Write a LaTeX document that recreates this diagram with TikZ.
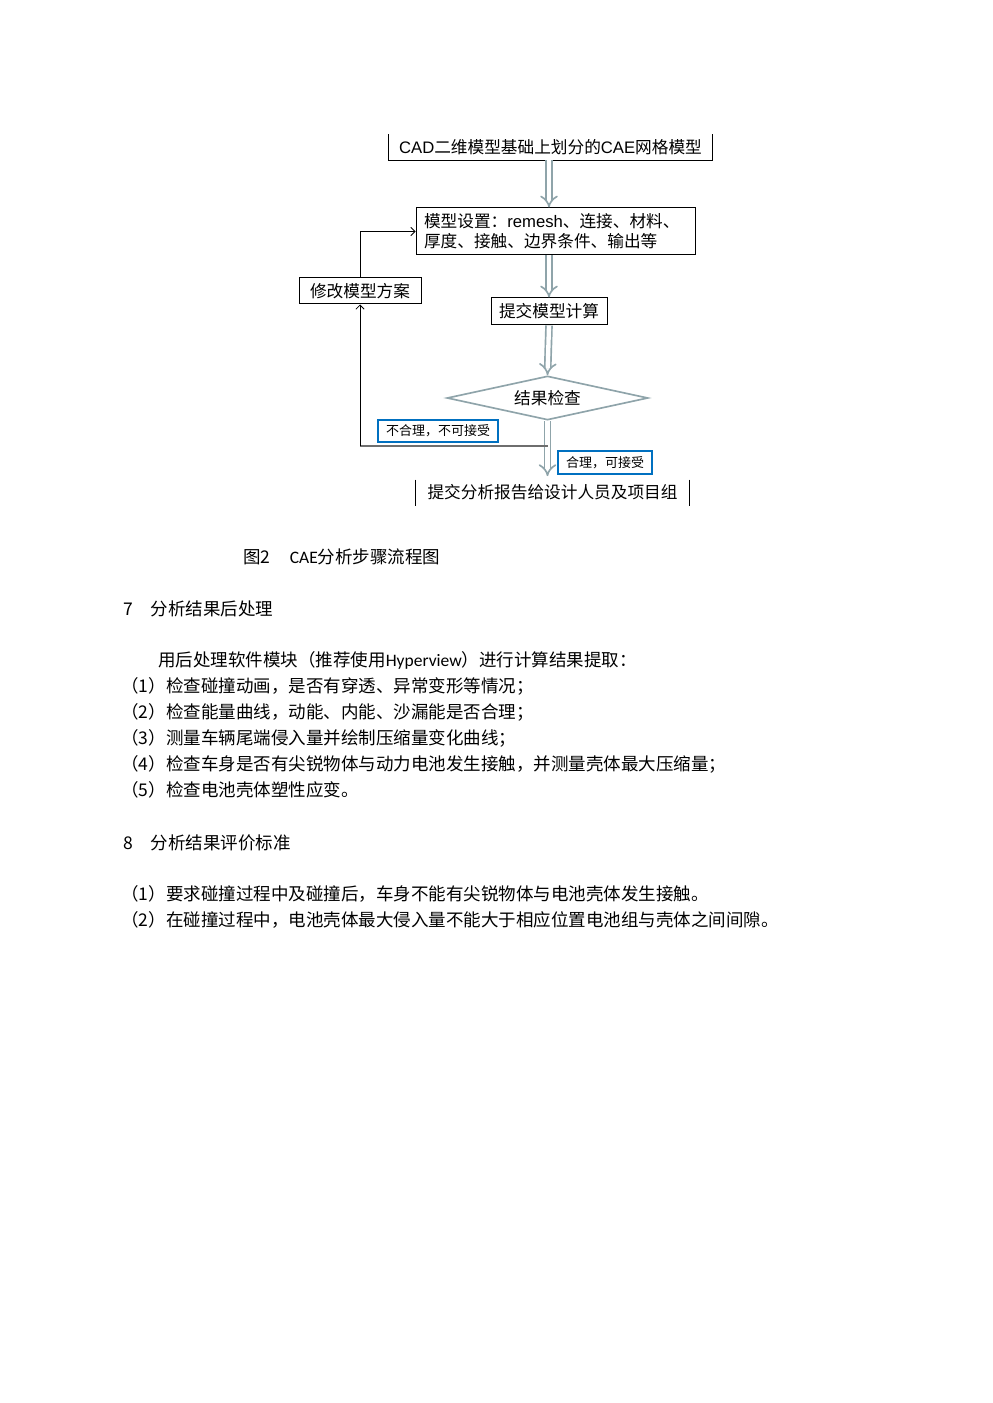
\documentclass[tikz,border=0pt]{standalone}
\usepackage{fontspec}
\setmainfont{Noto Sans CJK SC}
\newfontfamily\arialfont{Liberation Sans}
\newfontfamily\califont{Carlito}
\usetikzlibrary{arrows.meta,shapes.geometric}
\definecolor{arrowgray}{RGB}{143,164,170}
\definecolor{labelblue}{RGB}{0,112,192}
\definecolor{loopgray}{RGB}{110,110,110}
\newcommand{\bodysize}{\fontsize{10.5pt}{15.6pt}\selectfont}
\begin{document}
\begin{tikzpicture}[x=0.6pt, y=-0.6pt,
    flowbox/.style={draw=black, line width=0.6pt, inner sep=0pt, font=\fontsize{10pt}{12pt}\selectfont},
    flowarrow/.style={draw=arrowgray, line width=1pt, double=white, double distance=2.6pt, -{Implies}},
    labelbox/.style={draw=labelblue, line width=0.8pt, fill=white, inner sep=0pt, font=\fontsize{7.8pt}{9pt}\selectfont},
    loopline/.style={draw=black, line width=0.5pt},
    bodytext/.style={anchor=west, inner sep=0pt, font=\bodysize}]
    \useasboundingbox (0,0) rectangle (992,1403);
    % flow chart
    \node[flowbox, draw=none, minimum width=193.8pt, minimum height=15pt] (mesh) at (550.5,147.5) {{\arialfont CAD}二维模型基础上划分的{\arialfont CAE}网格模型};
    \draw[line width=0.6pt] (mesh.north west) -- (mesh.south west) -- (mesh.south east) -- (mesh.north east);
    \node[flowbox, text width=157.8pt, inner xsep=4.8pt, minimum height=28.2pt, align=left] (setup) at (555.5,231.5) {模型设置：{\arialfont remesh}、连接、材料、\\厚度、接触、边界条件、输出等};
    \node[flowbox, minimum width=69.6pt, minimum height=16.2pt] (calc) at (549,311.5) {提交模型计算};
    \node[flowbox, diamond, aspect=4.57, draw=arrowgray, line width=1pt, minimum width=120.6pt, minimum height=26.4pt] (check) at (547.5,398) {结果检查};
    \node[flowbox, draw=none, minimum width=163.8pt, minimum height=15pt] (report) at (552.5,492.5) {提交分析报告给设计人员及项目组};
    \draw[line width=0.6pt] (report.north west) -- (report.south west);
    \draw[line width=0.6pt] (report.north east) -- (report.south east);
    \node[flowbox, minimum width=73.2pt, minimum height=15.6pt] (modify) at (360,291) {修改模型方案};
    \draw[flowarrow] (calc.north |- mesh.south) -- (calc.north |- setup.north);
    \draw[flowarrow] (calc.north |- setup.south) -- (calc.north);
    \draw[flowarrow] (calc.south) -- (check.north);
    \draw[flowarrow, shorten >=2pt] (check.south) -- (check.south |- report.north);
    % feedback loop
    \coordinate (loopcorner) at (360,446);
    \draw[draw=loopgray, line width=1.2pt] (check.south |- loopcorner) -- (loopcorner);
    \draw[loopline, -{Straight Barb[length=2.5pt]}] (loopcorner) -- (modify.south);
    \draw[loopline, -{Straight Barb[length=2.5pt]}] (modify.north) |- (setup.west);
    \node[labelbox, minimum width=72pt, minimum height=13.2pt] (reject) at (438,431) {不合理，不可接受};
    \node[labelbox, minimum width=56.4pt, minimum height=13.8pt] (accept) at (605,462.5) {合理，可接受};
    % text below
    \node[bodytext] (caption) at (243,557) {图2\hspace{1.1em}{\califont CAE}分析步骤流程图};
    \node[bodytext] (sec7) at (123,609) {7\hspace{1em}分析结果后处理};
    \node[bodytext] (para) at (158,660) {用后处理软件模块（推荐使用{\califont Hyperview}）进行计算结果提取：};
    \node[bodytext] (item1) at (121,686) {（1）检查碰撞动画，是否有穿透、异常变形等情况；};
    \node[bodytext] (item2) at (121,712) {（2）检查能量曲线，动能、内能、沙漏能是否合理；};
    \node[bodytext] (item3) at (121,738) {（3）测量车辆尾端侵入量并绘制压缩量变化曲线；};
    \node[bodytext] (item4) at (121,764) {（4）检查车身是否有尖锐物体与动力电池发生接触，并测量壳体最大压缩量；};
    \node[bodytext] (item5) at (121,790) {（5）检查电池壳体塑性应变。};
    \node[bodytext] (sec8) at (123,843) {8\hspace{1em}分析结果评价标准};
    \node[bodytext] (rule1) at (121,894) {（1）要求碰撞过程中及碰撞后，车身不能有尖锐物体与电池壳体发生接触。};
    \node[bodytext] (rule2) at (121,920) {（2）在碰撞过程中，电池壳体最大侵入量不能大于相应位置电池组与壳体之间间隙。};
\end{tikzpicture}
\end{document}
